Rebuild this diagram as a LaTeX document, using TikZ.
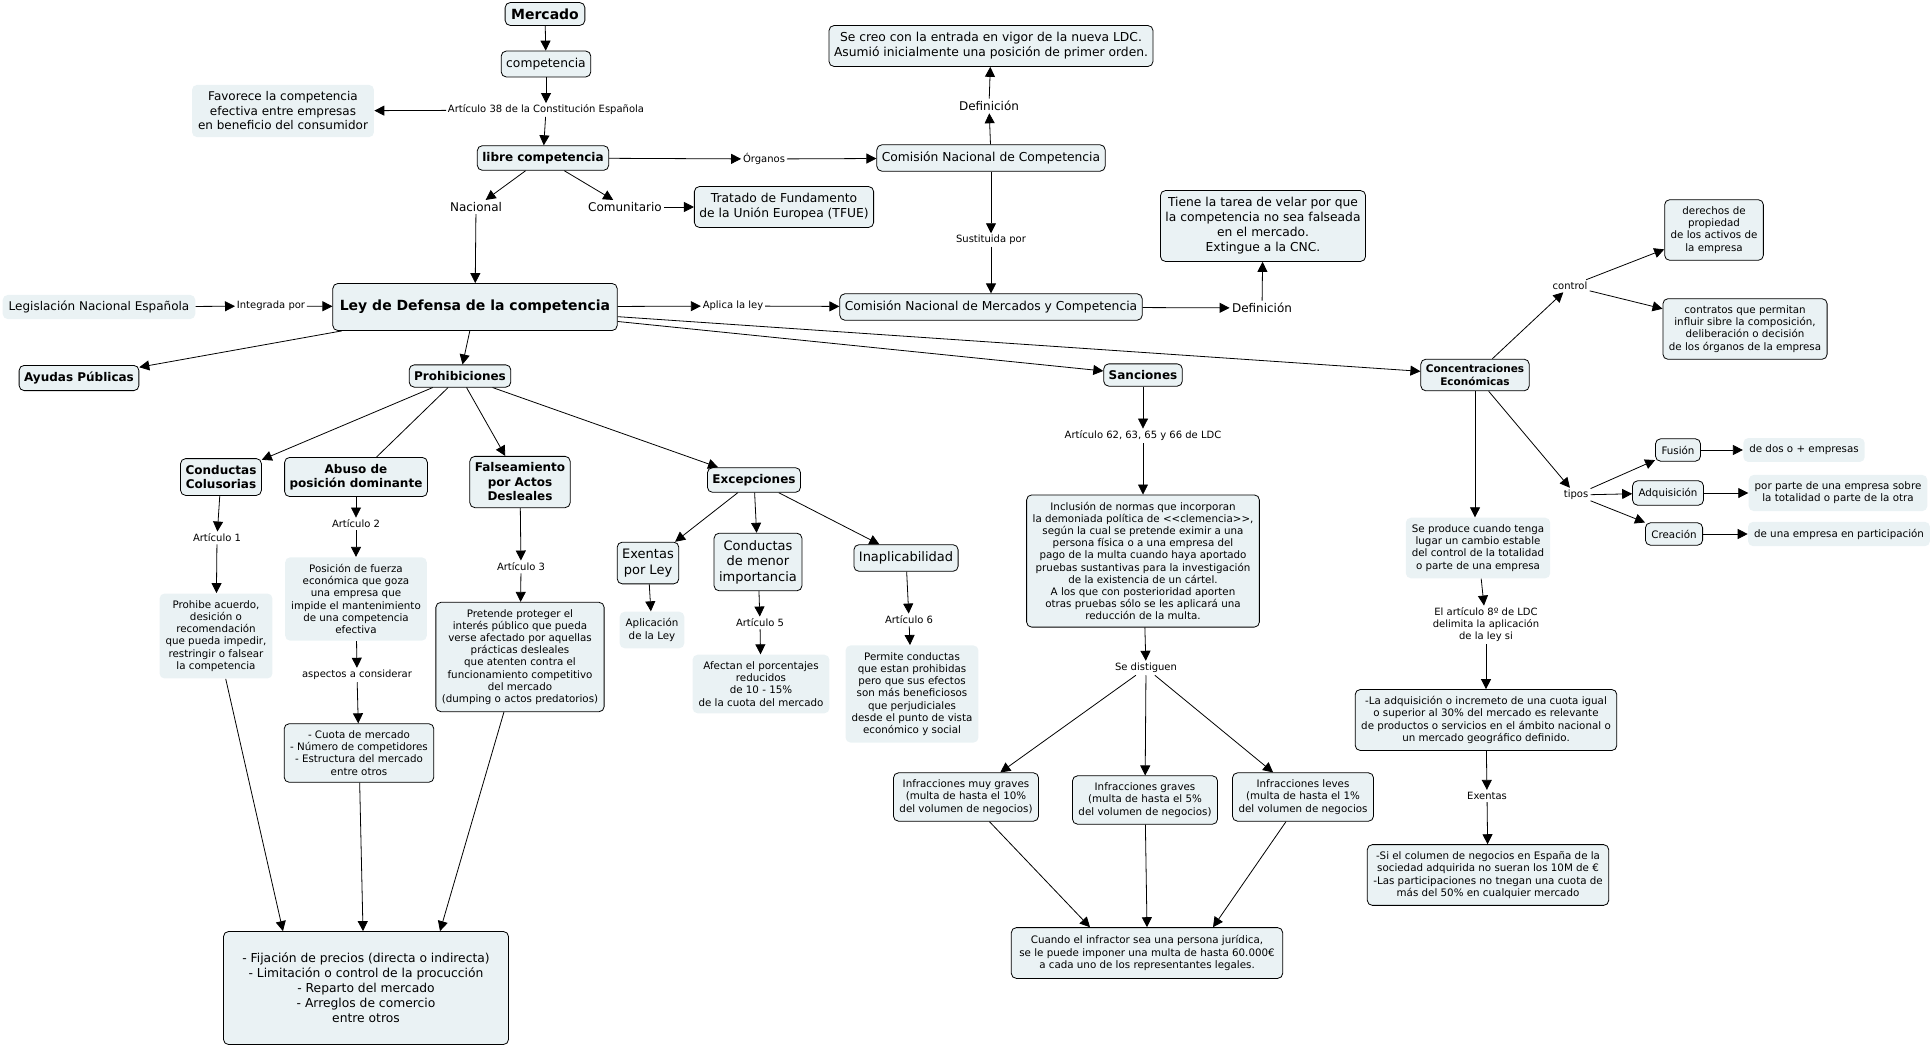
\documentclass[tikz,border=0pt]{standalone}
\usepackage{fontspec}
\setmainfont{DejaVu Sans}
\usetikzlibrary{arrows.meta,positioning,calc}
\definecolor{cfill}{RGB}{234,242,244}

\begin{document}
\begin{tikzpicture}[x=1pt,y=-1pt,
  every node/.style={align=center,inner sep=3pt},
  cpt/.style={draw,fill=cfill,rounded corners=5pt,font=\fontsize{12.3}{15}\selectfont,inner xsep=5pt,inner ysep=7pt},
  cptb/.style={cpt,font=\bfseries\fontsize{12}{14.5}\selectfont,inner ysep=6.5pt},
  sm/.style={cpt,font=\fontsize{10.3}{12.2}\selectfont,inner xsep=6pt,inner ysep=7pt},
  nt/.style={fill=cfill,rounded corners=5pt,font=\fontsize{10.3}{12.2}\selectfont,inner xsep=6pt,inner ysep=7pt},
  lk/.style={font=\fontsize{10}{12}\selectfont,inner sep=1.5pt},
  lb/.style={font=\fontsize{10}{12}\selectfont,inner sep=2pt},
  lbl/.style={lb,font=\fontsize{12}{14}\selectfont},
  >={Triangle[length=10pt,width=10pt]},line width=0.8pt]

\useasboundingbox (0,0) rectangle (1932,1047);

% top: mercado and competencia
\node[cptb,font=\bfseries\fontsize{14}{16}\selectfont,inner sep=6pt] (mercado) at (545,14) {Mercado};
\node[cpt] (comp) at (546,64) {competencia};
\node[lk] (art38) at (546,110) {Artículo 38 de la Constitución Española};
\node[nt,font=\fontsize{12}{14.5}\selectfont] (favorece) at (283,111) {Favorece la competencia\\efectiva entre empresas\\en beneficio del consumidor};
\node[cptb] (libre) at (543,158) {libre competencia};
\node[lbl] (nacional) at (476,207) {Nacional};
\node[lbl] (comunit) at (625,207) {Comunitario};
\node[cpt] (tfue) at (784,207) {Tratado de Fundamento\\de la Unión Europea (TFUE)};
\node[lk] (organos) at (764,159) {Órganos};
\node[cpt] (cnc) at (991,158) {Comisión Nacional de Competencia};
\node[lbl] (def1) at (989,106) {Definición};
\node[cpt] (secreo) at (991,46) {Se creo con la entrada en vigor de la nueva LDC.\\Asumió inicialmente una posición de primer orden.};
\node[lk] (sustit) at (991,240) {Sustituida por};
\node[cpt] (cnmc) at (991,307) {Comisión Nacional de Mercados y Competencia};
\node[lbl] (def2) at (1262,308) {Definición};
\node[cpt] (tarea) at (1263,226) {Tiene la tarea de velar por que\\la competencia no sea falseada\\en el mercado.\\Extingue a la CNC.};

% ley de defensa
\node[cptb,font=\bfseries\fontsize{14}{16}\selectfont,minimum height=47pt,inner sep=7pt] (ldc) at (475,307) {Ley de Defensa de la competencia};
\node[nt,font=\fontsize{12}{14.5}\selectfont,inner sep=6pt] (legis) at (99,307) {Legislación Nacional Española};
\node[lk] (integ) at (271,306) {Integrada por};
\node[lk] (aplica) at (733,306) {Aplica la ley};
\node[cptb] (ayudas) at (79,378) {Ayudas Públicas};
\node[cptb] (prohib) at (460,376) {Prohibiciones};
\node[cptb] (sanc) at (1143,375) {Sanciones};
\node[cptb,font=\bfseries\fontsize{10.5}{12.5}\selectfont,inner ysep=5.5pt] (concen) at (1475,375) {Concentraciones\\Económicas};

% concentraciones
\node[lb] (control) at (1570,286) {control};
\node[sm] (derechos) at (1714,230) {derechos de\\propiedad\\de los activos de\\la empresa};
\node[sm] (contratos) at (1745,329) {contratos que permitan\\influir sibre la composición,\\deliberación o decisión\\de los órganos de la empresa};
\node[lb] (tipos) at (1576,495) {tipos};
\node[sm] (fusion) at (1678,450) {Fusión};
\node[sm] (adquis) at (1668,493) {Adquisición};
\node[sm] (creacion) at (1674,534) {Creación};
\node[nt] (dosmas) at (1804,450) {de dos o + empresas};
\node[nt] (porparte) at (1838,493) {por parte de una empresa sobre\\la totalidad o parte de la otra};
\node[nt] (partic) at (1839,534) {de una empresa en participación};
\node[nt] (produce) at (1478,548) {Se produce cuando tenga\\lugar un cambio estable\\del control de la totalidad\\o parte de una empresa};
\node[lb] (art8) at (1486,625) {El artículo 8º de LDC\\delimita la aplicación\\de la ley si};
\node[sm] (adq30) at (1486,720) {-La adquisición o incremeto de una cuota igual\\o superior al 30\% del mercado es relevante\\de productos o servicios en el ámbito nacional o\\un mercado geográfico definido.};
\node[lb] (exentas) at (1487,796) {Exentas};
\node[sm] (columen) at (1488,875) {-Si el columen de negocios en España de la\\sociedad adquirida no sueran los 10M de €\\-Las participaciones no tnegan una cuota de\\más del 50\% en cualquier mercado};

% sanciones
\node[lb] (art62) at (1143,436) {Artículo 62, 63, 65 y 66 de LDC};
\node[sm] (clemencia) at (1143,561) {Inclusión de normas que incorporan\\la demoniada política de <{}<clemencia>{}>,\\según la cual se pretende eximir a una\\persona física o a una empresa del\\pago de la multa cuando haya aportado\\pruebas sustantivas para la investigación\\de la existencia de un cártel.\\A los que con posterioridad aporten\\otras pruebas sólo se les aplicará una\\reducción de la multa.};
\node[lb] (distig) at (1146,668) {Se distiguen};
\node[sm] (muygr) at (966,797) {Infracciones muy graves\\(multa de hasta el 10\%\\del volumen de negocios)};
\node[sm] (graves) at (1145,800) {Infracciones graves\\(multa de hasta el 5\%\\del volumen de negocios)};
\node[sm] (leves) at (1303,797) {Infracciones leves\\(multa de hasta el 1\%\\del volumen de negocios};
\node[sm,inner sep=8pt] (infractor) at (1147,953) {Cuando el infractor sea una persona jurídica,\\se le puede imponer una multa de hasta 60.000€\\a cada uno de los representantes legales.};

% prohibiciones
\node[cptb] (colus) at (221,477) {Conductas\\Colusorias};
\node[cptb] (abuso) at (356,477) {Abuso de\\posición dominante};
\node[cptb] (falsea) at (520,482) {Falseamiento\\por Actos\\Desleales};
\node[cptb] (excep) at (754,480) {Excepciones};
\node[lb] (art1) at (217,538) {Artículo 1};
\node[nt] (prohibe) at (216,636) {Prohibe acuerdo,\\desición o\\recomendación\\que pueda impedir,\\restringir o falsear\\la competencia};
\node[lb] (art2) at (356,524) {Artículo 2};
\node[nt] (fuerza) at (356,599) {Posición de fuerza\\económica que goza\\una empresa que\\impide el mantenimiento\\de una competencia\\efectiva};
\node[lb] (aspectos) at (357,675) {aspectos a considerar};
\node[sm] (cuota) at (359,753) {- Cuota de mercado\\- Número de competidores\\- Estructura del mercado\\entre otros};
\node[lb] (art3) at (521,567) {Artículo 3};
\node[sm] (pretende) at (520,657) {Pretende proteger el\\interés público que pueda\\verse afectado por aquellas\\prácticas desleales\\que atenten contra el\\funcionamiento competitivo\\del mercado\\(dumping o actos predatorios)};
\node[cpt,minimum width=285pt,minimum height=113pt] (fijacion) at (366,988) {- Fijación de precios (directa o indirecta)\\- Limitación o control de la procucción\\- Reparto del mercado\\- Arreglos de comercio\\entre otros};
\node[cpt,font=\fontsize{13}{15.5}\selectfont] (exley) at (648,563) {Exentas\\por Ley};
\node[nt] (aplicley) at (652,630) {Aplicación\\de la Ley};
\node[cpt,font=\fontsize{13}{15.5}\selectfont] (menor) at (758,562) {Conductas\\de menor\\importancia};
\node[lb] (art5) at (760,623) {Artículo 5};
\node[nt] (afectan) at (761,684) {Afectan el porcentajes\\reducidos\\de 10 - 15\%\\de la cuota del mercado};
\node[cpt,font=\fontsize{13}{15.5}\selectfont] (inapl) at (906,558) {Inaplicabilidad};
\node[lb] (art6) at (909,620) {Artículo 6};
\node[nt] (permite) at (912,694) {Permite conductas\\que estan prohibidas\\pero que sus efectos\\son más beneficiosos\\que perjudiciales\\desde el punto de vista\\económico y social};

% connectors, top
\draw[->] (mercado) -- (comp);
\draw[->] (comp) -- (art38);
\draw[->] (art38) -- (libre);
\draw[->] (art38) -- (favorece);
\draw[->] (libre) -- (nacional);
\draw[->] (nacional) -- (ldc);
\draw[->] (libre) -- (comunit);
\draw[->] (comunit) -- (tfue);
\draw[->] (libre) -- (organos);
\draw[->] (organos) -- (cnc);
\draw[->] (cnc) -- (def1);
\draw[->] (def1) -- (secreo);
\draw[->] (cnc) -- (sustit);
\draw[->] (sustit) -- (cnmc);
\draw[->] (cnmc) -- (def2);
\draw[->] (def2) -- (tarea);
\draw[->] (legis) -- (integ);
\draw[->] (integ) -- (ldc);
\draw[->] (ldc) -- (aplica);
\draw[->] (aplica) -- (cnmc);
\draw[->] (ldc) -- (ayudas);
\draw[->] (ldc) -- (prohib);
\draw[->] (ldc) -- (sanc);
\draw[->] (ldc) -- (concen);

% connectors, concentraciones
\draw[->] (concen) -- (control);
\draw[->] (control) -- (derechos);
\draw[->] (control) -- (contratos);
\draw[->] (concen) -- (tipos);
\draw[->] (tipos) -- (fusion);
\draw[->] (tipos) -- (adquis);
\draw[->] (tipos) -- (creacion);
\draw[->] (fusion) -- (dosmas);
\draw[->] (adquis) -- (porparte);
\draw[->] (creacion) -- (partic);
\draw[->] (concen.south) -- (concen.south |- produce.north);
\draw[->] (produce) -- (art8);
\draw[->] (art8) -- (adq30);
\draw[->] (adq30) -- (exentas);
\draw[->] (exentas) -- (columen);

% connectors, sanciones
\draw[->] (sanc) -- (art62);
\draw[->] (art62) -- (clemencia);
\draw[->] (clemencia) -- (distig);
\draw[->] (distig) -- (muygr);
\draw[->] (distig) -- (graves);
\draw[->] (distig) -- (leves);
\draw[->] (muygr) -- ([xshift=-57pt]infractor.north);
\draw[->] (graves) -- (infractor.north);
\draw[->] (leves) -- ([xshift=66pt]infractor.north);

% connectors, prohibiciones
\draw[->] (prohib) -- (colus);
\draw (prohib) -- (abuso);
\draw[->] (prohib) -- (falsea);
\draw[->] (prohib) -- (excep);
\draw[->] (colus) -- (art1);
\draw[->] (art1) -- (prohibe);
\draw[->] (prohibe) -- ([xshift=-83pt]fijacion.north);
\draw[->] (abuso) -- (art2);
\draw[->] (art2) -- (fuerza);
\draw[->] (fuerza) -- (aspectos);
\draw[->] (aspectos) -- (cuota);
\draw[->] (cuota) -- ([xshift=-3pt]fijacion.north);
\draw[->] (falsea) -- (art3);
\draw[->] (art3) -- (pretende);
\draw[->] (pretende) -- ([xshift=74pt]fijacion.north);
\draw[->] (excep) -- (exley);
\draw[->] (exley) -- (aplicley);
\draw[->] (excep) -- (menor);
\draw[->] (menor) -- (art5);
\draw[->] (art5) -- (afectan);
\draw[->] (excep) -- (inapl);
\draw[->] (inapl) -- (art6);
\draw[->] (art6) -- (permite);
\end{tikzpicture}
\end{document}
